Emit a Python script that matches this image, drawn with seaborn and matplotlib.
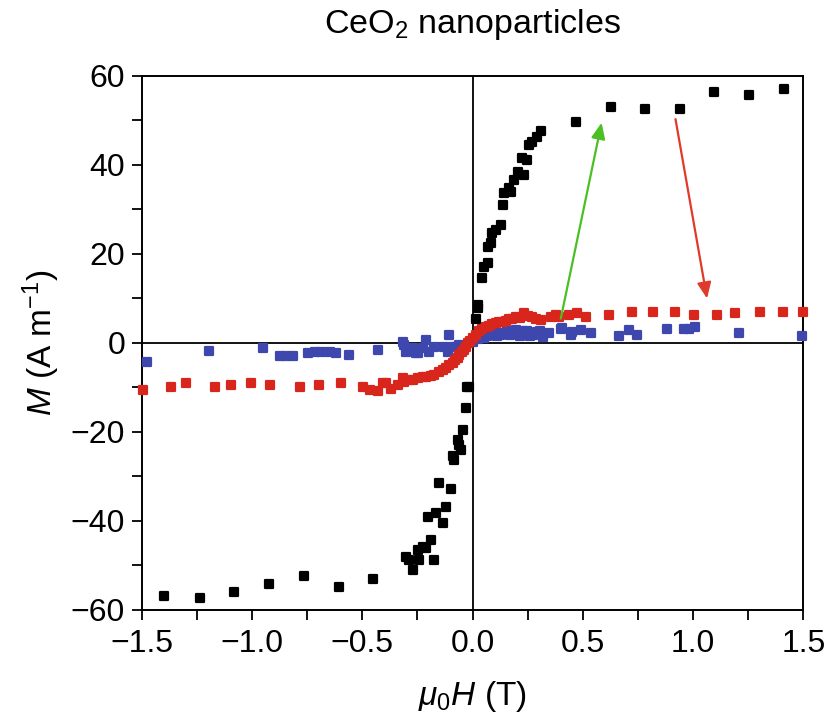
import matplotlib
matplotlib.use("Agg")
import matplotlib.pyplot as plt
import seaborn as sns
import pandas as pd
from matplotlib.ticker import MultipleLocator

sns.set_theme(style="white")
plt.rcParams['font.family'] = ['Liberation Sans', 'DejaVu Sans']
plt.rcParams['mathtext.fontset'] = 'custom'
plt.rcParams['mathtext.rm'] = 'Liberation Sans'
plt.rcParams['mathtext.it'] = 'Liberation Sans:italic'

# ---- data ----
black_x = [1.41, 1.255, 1.096, 0.94, 0.78, 0.626, 0.467, 0.309, 0.294, 0.271, 0.256,
           0.249, 0.226, 0.234, 0.204, 0.189, 0.166, 0.143, 0.173, 0.136, 0.128, 0.105,
           0.090, 0.083, 0.068, 0.068, 0.053, 0.045, 0.023, 0.023, 0.015,
           -0.018, -0.023, -0.030, -0.042, -0.068, -0.060, -0.053, -0.090, -0.083,
           -0.151, -0.098, -0.121, -0.166, -0.204, -0.136, -0.189, -0.226, -0.249,
           -0.211, -0.302, -0.286, -0.241, -0.173, -0.271, -0.452, -0.606, -0.766,
           -0.923, -1.081, -1.237, -1.398]
black_y = [57.1, 55.7, 56.5, 52.5, 52.5, 53.1, 49.7, 47.7, 46.4, 45.2, 44.5,
           41.1, 41.5, 37.8, 38.5, 36.6, 34.8, 33.6, 34.0, 31.0, 26.5, 25.4,
           24.7, 22.4, 21.6, 17.9, 17.1, 14.5, 8.5, 7.9, 5.5,
           -9.8, -9.8, -14.7, -19.5, -21.8, -22.9, -24.0, -25.5, -26.3,
           -31.4, -32.7, -36.8, -38.3, -39.0, -40.4, -44.3, -45.8, -46.5,
           -46.1, -48.0, -48.8, -48.8, -48.8, -51.0, -53.1, -54.8, -52.4,
           -54.2, -56.0, -57.4, -56.8]

red_x = [1.50, 1.406, 1.305, 1.191, 1.109, 1.003, 0.920, 0.818, 0.721, 0.619,
         0.513, 0.475, 0.437, 0.392, 0.354, 0.309, 0.271, 0.234, 0.196, 0.166, 0.136,
         0.377, 0.287, 0.250, 0.215, 0.180, 0.150, 0.120, 0.105, 0.090, 0.075, 0.060,
         0.045, 0.030, 0.015, 0.000, -0.010, -0.020, -0.030, -0.040, -0.050, -0.060,
         -0.068, -0.080, -0.090, -0.105, -0.120, -0.136, -0.150, -0.173, -0.190,
         -0.211, -0.226, -0.249, -0.270, -0.286, -0.309, -0.317, -0.339, -0.370,
         -0.392, -0.407, -0.430, -0.467, -0.498, -0.596, -0.694, -0.784, -0.920,
         -1.003, -1.094, -1.169, -1.297, -1.365, -1.493]
red_y = [7.0, 7.0, 7.0, 6.7, 6.3, 6.3, 7.0, 7.0, 7.0, 6.3,
         5.9, 6.7, 6.3, 5.9, 5.9, 5.2, 5.9, 6.7, 5.9, 5.5, 4.8,
         6.3, 5.5, 6.0, 5.6, 5.4, 5.0, 4.8, 4.6, 4.2, 3.9, 3.5,
         3.1, 2.6, 1.8, 1.2, 0.5, -0.1, -0.8, -1.5, -2.0, -2.6,
         -3.3, -3.8, -4.6, -5.0, -5.6, -6.1, -6.6, -7.2, -7.4,
         -7.6, -7.6, -7.9, -8.3, -8.3, -8.7, -7.9, -9.5, -10.3,
         -9.1, -9.1, -10.9, -10.6, -9.8, -9.1, -9.4, -9.8, -9.4,
         -9.1, -9.4, -9.8, -9.1, -9.8, -10.6]

blue_x = [1.493, 1.207, 1.010, 0.981, 0.958, 0.882, 0.747, 0.709, 0.664,
          0.535, 0.490, 0.445, 0.400, 0.452, 0.407, 0.347, 0.320, 0.290, 0.260,
          0.230, 0.196, 0.170, 0.140, 0.110, 0.080, 0.050, 0.025, 0.000,
          0.305, 0.275, 0.245, 0.215, 0.185, 0.155, 0.125, 0.095, 0.065,
          -0.060, -0.075, -0.090, -0.105, -0.113, -0.128, -0.173, -0.196, -0.211,
          -0.226, -0.249, -0.256, -0.271, -0.302, -0.309, -0.317, -0.430,
          -0.558, -0.619, -0.648, -0.686, -0.716, -0.747, -0.814, -0.845, -0.875,
          -0.950, -1.195, -1.478]
blue_y = [1.6, 2.3, 3.7, 3.1, 3.1, 3.1, 1.8, 2.9, 1.6,
          2.3, 2.9, 1.8, 3.1, 2.5, 3.3, 2.2, 1.4, 2.4, 1.6,
          2.6, 2.9, 1.8, 2.2, 1.5, 2.0, 1.2, 0.8, 0.3,
          2.8, 1.9, 2.7, 1.5, 2.5, 2.8, 1.9, 2.3, 1.5,
          -0.4, -0.8, -0.8, 1.8, -2.0, -0.8, -0.8, -2.0, 0.7,
          -1.2, -2.3, -2.3, -1.2, -2.0, -0.4, 0.3, -1.6,
          -2.6, -2.2, -2.0, -2.0, -2.0, -2.2, -2.9, -2.9, -2.9,
          -1.2, -1.9, -4.2]

x_ticks = [-1.5, -1.0, -0.5, 0.0, 0.5, 1.0, 1.5]
x_tick_labels = ["\u22121.5", "\u22121.0", "\u22120.5", "0.0", "0.5", "1.0", "1.5"]
y_ticks = [-60, -40, -20, 0, 20, 40, 60]
y_tick_labels = ["\u221260", "\u221240", "\u221220", "0", "20", "40", "60"]

# ---- figure ----
fig = plt.figure(figsize=(8.3, 7.23), dpi=100)
ax = fig.add_axes([0.1707, 0.1563, 0.7973, 0.7386])

ax.axhline(0, color="black", lw=1.3, zorder=1)
ax.axvline(0, color="black", lw=1.3, zorder=1)

df_b = pd.DataFrame({"H": blue_x, "M": blue_y})
df_r = pd.DataFrame({"H": red_x, "M": red_y})
df_k = pd.DataFrame({"H": black_x, "M": black_y})

def pts(df, color, s, z, clip):
    sns.scatterplot(data=df, x="H", y="M", ax=ax, color=color, edgecolor=color,
                    marker="s", s=s, linewidth=1.6, zorder=z, clip_on=clip)
    ax.collections[-1].set_joinstyle("round")

pts(df_b, "#3d47ad", 28, 3, False)
pts(df_r, "#d9261c", 30, 4, False)
pts(df_k, "black", 34, 5, True)

# arrows
ax.annotate("", xy=(0.585, 49.5), xytext=(0.40, 5.5),
            arrowprops=dict(arrowstyle="-|>,head_length=0.8,head_width=0.35",
                            color="#4cbf25", lw=1.6, shrinkA=0, shrinkB=0), zorder=6)
ax.annotate("", xy=(1.063, 10.0), xytext=(0.92, 50.3),
            arrowprops=dict(arrowstyle="-|>,head_length=0.8,head_width=0.35",
                            color="#e03a2a", lw=1.6, shrinkA=0, shrinkB=0), zorder=6)

ax.set_xlim(-1.5, 1.5)
ax.set_ylim(-60, 60)
ax.set_xticks(x_ticks)
ax.set_xticklabels(x_tick_labels)
ax.set_yticks(y_ticks)
ax.set_yticklabels(y_tick_labels)
ax.xaxis.set_minor_locator(MultipleLocator(0.25))
ax.yaxis.set_minor_locator(MultipleLocator(10))
ax.tick_params(which="both", direction="out", length=7, width=1.3, color="black",
               labelsize=23, labelcolor="black", bottom=True, left=True)
ax.tick_params(axis="x", pad=7)
ax.tick_params(axis="y", pad=5)
for sp in ax.spines.values():
    sp.set_color("black")
    sp.set_linewidth(1.4)

ax.set_xlabel("$\\mu_0H$ (T)", fontsize=24, color="black", labelpad=14)
ax.set_ylabel("$M$ (A m$^{-1}$)", fontsize=24, color="black", labelpad=6)
ax.set_title("CeO$_2$ nanoparticles", fontsize=24.5, color="black", pad=31)

fig.savefig("out.png", dpi=100)
